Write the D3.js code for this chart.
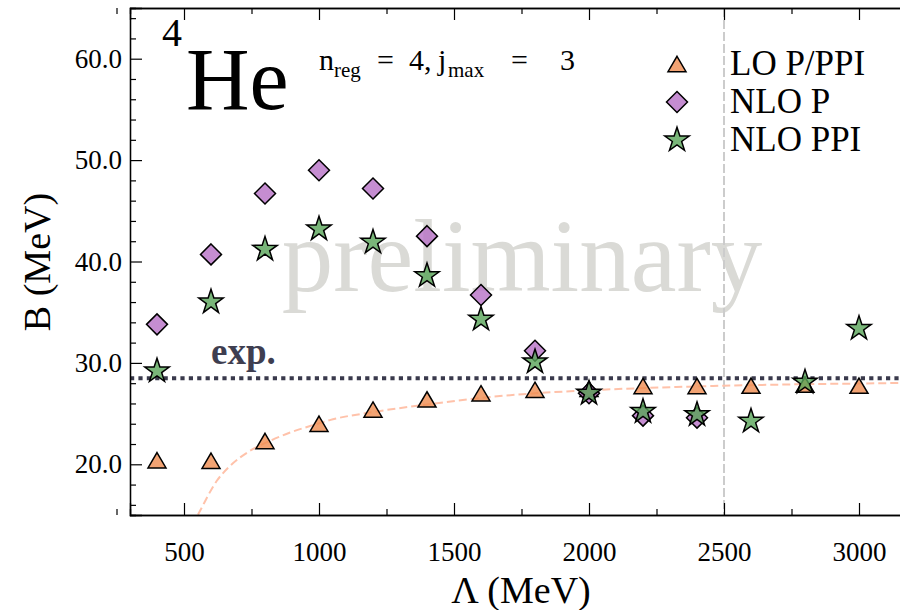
<!DOCTYPE html>
<html>
<head>
<meta charset="utf-8">
<script src="https://cdn.jsdelivr.net/npm/d3@7"></script>
<style>
  body { margin: 0; background: #fff; }
</style>
</head>
<body>
<svg id="chart" width="900" height="610"></svg>
<script>
// cutoff values (MeV)
const cutoffs = [400, 600, 800, 1000, 1200, 1400, 1600, 1800, 2000, 2200, 2400, 2600, 2800, 3000];
// binding energies (MeV)
const loValues = [20.4, 20.35, 22.3, 24.0, 25.4, 26.4, 27.0, 27.35, 27.45, 27.72, 27.72, 27.75, 27.85, 27.75];
const nloPValues = [33.8, 40.7, 46.7, 49.0, 47.2, 42.5, 36.7, 31.2, 27.0, 24.8, 24.6];
const nloPpiValues = [29.2, 36.0, 41.2, 43.2, 41.9, 38.6, 34.3, 30.1, 27.0, 25.2, 24.9, 24.25, 28.1, 33.4];
// LO fit curve (dashed)
const fitLambda = [530, 552, 621, 670, 744, 818, 893, 990, 1040, 1200, 1400, 1600, 1800, 2000, 2300, 2500, 2800, 3100, 3200];
const fitValues = [14.0, 15.05, 18.35, 19.83, 21.32, 22.31, 23.13, 23.96, 24.36, 25.15, 25.9, 26.55, 27.0, 27.3, 27.6, 27.75, 27.9, 28.0, 28.05];
const expValue = 28.48;
const cutLine = 2500;

const xTicks = [500, 1000, 1500, 2000, 2500, 3000];
const xMinor = [250, 750, 1250, 1750, 2250, 2750, 3250];
const yTicks = [20, 30, 40, 50, 60];
const yMinor = d3.range(16, 65, 2).filter(v => v % 10 !== 0);

const legendLabels = ['LO P/PPI', 'NLO P', 'NLO PPI'];

const serif = '"Liberation Serif"';
const svg = d3.select('#chart');

// small helper: text with the serif font
function addText(parent, str, size) {
  return parent.append('text')
    .attr('font-family', 'Liberation Serif')
    .style('font-family', serif)
    .attr('font-size', size)
    .text(str);
}

const x = d3.scaleLinear().domain([300, 3200]).range([130, 913]);
const y = d3.scaleLinear().domain([15, 65]).range([515, 8]);

// marker shapes (matplotlib-like ^, D, *)
const triShape = {
  draw(ctx, size) {
    const r = Math.sqrt(size);
    ctx.moveTo(0, -r * 0.85);
    ctx.lineTo(r, r * 0.85);
    ctx.lineTo(-r, r * 0.85);
    ctx.closePath();
  }
};
const diamondShape = {
  draw(ctx, size) {
    const r = Math.sqrt(size);
    ctx.moveTo(0, -r);
    ctx.lineTo(r, 0);
    ctx.lineTo(0, r);
    ctx.lineTo(-r, 0);
    ctx.closePath();
  }
};
const starShape = {
  draw(ctx, size) {
    const r = Math.sqrt(size), ri = r * 0.382;
    for (let i = 0; i < 10; i++) {
      const a = -Math.PI / 2 + i * Math.PI / 5;
      const rr = i % 2 === 0 ? r : ri;
      if (i === 0) ctx.moveTo(rr * Math.cos(a), rr * Math.sin(a));
      else ctx.lineTo(rr * Math.cos(a), rr * Math.sin(a));
    }
    ctx.closePath();
  }
};

const series = [
  { name: legendLabels[0], values: loValues, shape: triShape, size: 81, fill: '#ef8c50' },
  { name: legendLabels[1], values: nloPValues, shape: diamondShape, size: 110, fill: '#b671c5' },
  { name: legendLabels[2], values: nloPpiValues, shape: starShape, size: 164, fill: '#58a458' }
];

svg.append('defs').append('clipPath').attr('id', 'plotclip')
  .append('rect')
  .attr('x', x.range()[0]).attr('y', y.range()[1])
  .attr('width', x.range()[1] - x.range()[0])
  .attr('height', y.range()[0] - y.range()[1]);

const plot = svg.append('g').attr('clip-path', 'url(#plotclip)');

// watermark
addText(plot, 'preliminary', 103)
  .attr('x', 522).attr('y', 291)
  .attr('text-anchor', 'middle')
  .attr('fill', '#dadad6');

// vertical dashed line at 2500
plot.append('line')
  .attr('x1', x(cutLine)).attr('x2', x(cutLine))
  .attr('y1', y.range()[1]).attr('y2', y.range()[0])
  .attr('stroke', '#cccccc').attr('stroke-width', 2)
  .attr('stroke-dasharray', '9,3');

// fit curve
const fitLine = d3.line()
  .x((d, i) => x(fitLambda[i]))
  .y(d => y(d))
  .curve(d3.curveMonotoneX);
plot.append('path')
  .attr('d', fitLine(fitValues))
  .attr('fill', 'none')
  .attr('stroke', '#ffc2aa').attr('stroke-width', 2)
  .attr('stroke-dasharray', '8,4');

// experimental value
plot.append('line')
  .attr('x1', x.range()[0]).attr('x2', x.range()[1])
  .attr('y1', y(expValue)).attr('y2', y(expValue))
  .attr('stroke', '#3a3a4c').attr('stroke-width', 4)
  .attr('stroke-dasharray', '4.2,4.2');

addText(svg, 'exp.', 37)
  .attr('x', 211).attr('y', 364)
  .attr('font-weight', 'bold')
  .attr('fill', '#3e3e50');

// markers
series.forEach(s => {
  plot.append('g')
    .selectAll('path')
    .data(s.values)
    .join('path')
    .attr('transform', (d, i) => `translate(${x(cutoffs[i])},${y(d)})`)
    .attr('d', d3.symbol().type(s.shape).size(s.size))
    .attr('fill', s.fill).attr('fill-opacity', 0.8)
    .attr('stroke', '#000').attr('stroke-width', 1.5);
});

// axes (ticks pointing inward)
svg.append('g')
  .attr('transform', `translate(0,${y.range()[0]})`)
  .call(d3.axisBottom(x).tickValues(xTicks).tickSize(-12).tickPadding(27).tickFormat(d3.format('d')));
svg.append('g')
  .attr('transform', `translate(0,${y.range()[0]})`)
  .call(d3.axisBottom(x).tickValues(xMinor).tickSize(-6).tickFormat(''));
svg.append('g')
  .attr('transform', `translate(0,${y.range()[1]})`)
  .call(d3.axisTop(x).tickValues(xTicks).tickSize(-12).tickFormat(''));
svg.append('g')
  .attr('transform', `translate(0,${y.range()[1]})`)
  .call(d3.axisTop(x).tickValues(xMinor).tickSize(-6).tickFormat(''));

svg.append('g')
  .attr('transform', `translate(${x.range()[0]},0)`)
  .call(d3.axisLeft(y).tickValues(yTicks).tickSize(-12).tickPadding(8).tickFormat(d3.format('.1f')));
svg.append('g')
  .attr('transform', `translate(${x.range()[0]},0)`)
  .call(d3.axisLeft(y).tickValues(yMinor).tickSize(-6).tickFormat(''));

svg.selectAll('.domain').attr('stroke', '#000').attr('stroke-width', 1.3);
svg.selectAll('.tick line').attr('stroke', '#000').attr('stroke-width', 1.2);
svg.selectAll('g').filter(function () { return this.getAttribute('font-family') === 'sans-serif'; })
  .attr('font-family', 'Liberation Serif')
  .attr('font-size', 27);
svg.selectAll('.tick text')
  .attr('fill', '#000')
  .attr('font-family', 'Liberation Serif')
  .style('font-family', serif)
  .style('font-size', '27px');

// axis titles
addText(svg, 'Λ (MeV)', 38)
  .attr('x', 521).attr('y', 603)
  .attr('text-anchor', 'middle');
addText(svg, 'B (MeV)', 38)
  .attr('transform', 'translate(50,262) rotate(-90)')
  .attr('text-anchor', 'middle');

// nucleus label
addText(svg, '4', 40).attr('x', 162).attr('y', 46);
addText(svg, 'He', 88).attr('x', 186).attr('y', 109);

// regulator info
const info = svg.append('g');
addText(info, 'n', 30).attr('x', 319).attr('y', 70);
addText(info, 'reg', 21).attr('x', 334).attr('y', 77);
addText(info, '=', 30).attr('x', 377).attr('y', 70);
addText(info, '4,', 30).attr('x', 409).attr('y', 70);
addText(info, 'j', 30).attr('x', 438).attr('y', 70);
addText(info, 'max', 21).attr('x', 448).attr('y', 77);
addText(info, '=', 30).attr('x', 511).attr('y', 70);
addText(info, '3', 30).attr('x', 560).attr('y', 70);

// legend
const legend = svg.append('g');
series.forEach((s, i) => {
  const cy = 64 + i * 38;
  legend.append('path')
    .attr('transform', `translate(677,${cy})`)
    .attr('d', d3.symbol().type(s.shape).size(s.size))
    .attr('fill', s.fill).attr('fill-opacity', 0.8)
    .attr('stroke', '#000').attr('stroke-width', 1.5);
  addText(legend, s.name, 35)
    .attr('x', 730).attr('y', cy + 11);
});
</script>
</body>
</html>
